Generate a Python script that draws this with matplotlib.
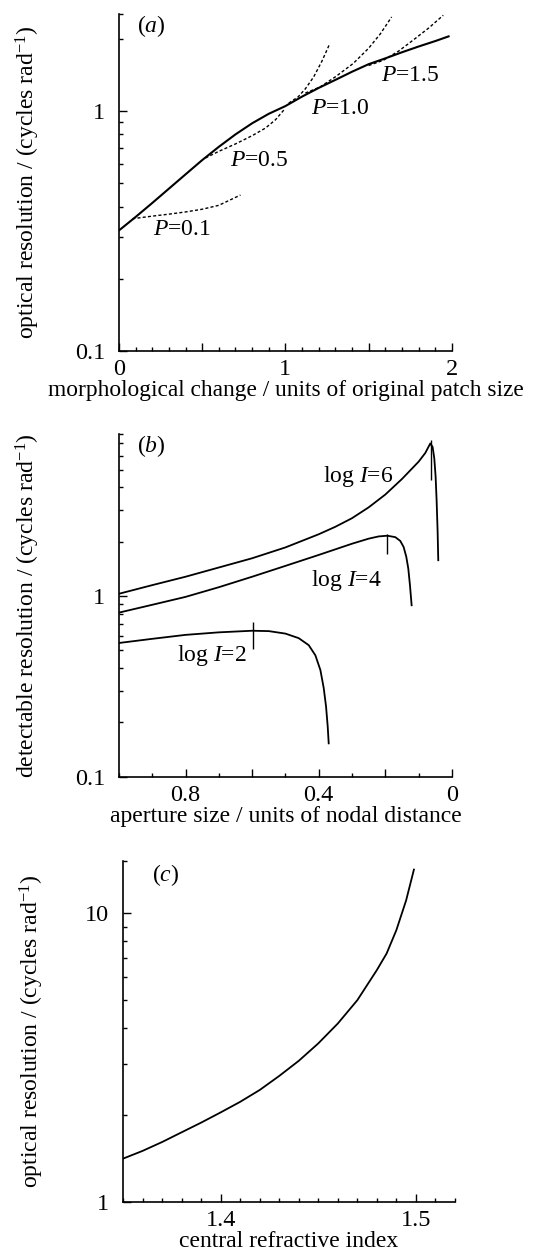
import matplotlib
matplotlib.use("Agg")
import matplotlib.pyplot as plt
from matplotlib.ticker import FixedLocator, NullFormatter, FixedFormatter

plt.rcParams["font.family"] = ["Liberation Serif", "DejaVu Serif"]
plt.rcParams["mathtext.fontset"] = "custom"
plt.rcParams["mathtext.rm"] = "Liberation Serif"
plt.rcParams["mathtext.it"] = "Liberation Serif:italic"

# ── panel (a) data ─────────────────────────────────────────────────────────────
env_x = [0.0, 0.1, 0.2, 0.3, 0.4, 0.5, 0.6, 0.7, 0.8, 0.9, 1.0, 1.1, 1.2, 1.3,
         1.4, 1.5, 1.6, 1.7, 1.8, 1.9, 1.98]
env_y = [0.318, 0.362, 0.414, 0.475, 0.545, 0.625, 0.71, 0.80, 0.89, 0.975, 1.05,
         1.15, 1.25, 1.35, 1.46, 1.57, 1.66, 1.76, 1.86, 1.96, 2.05]

p01_x = [0.08, 0.2, 0.3, 0.4, 0.5, 0.6, 0.73]
p01_y = [0.356, 0.365, 0.372, 0.38, 0.39, 0.405, 0.447]
p05_x = [0.52, 0.6, 0.7, 0.8, 0.88, 0.94, 0.99]
p05_y = [0.638, 0.68, 0.73, 0.79, 0.85, 0.92, 1.01]
p10_x = [1.02, 1.077, 1.12, 1.17, 1.22, 1.267]
p10_y = [1.08, 1.148, 1.24, 1.39, 1.62, 1.916]
p15_x = [1.12, 1.207, 1.3, 1.407, 1.5, 1.57, 1.638]
p15_y = [1.19, 1.26, 1.39, 1.58, 1.83, 2.1, 2.47]
p20_x = [1.5, 1.588, 1.68, 1.768, 1.86, 1.948]
p20_y = [1.55, 1.63, 1.78, 1.98, 2.22, 2.51]

labels_a = ["$P$=0.1", "$P$=0.5", "$P$=1.0", "$P$=1.5"]
labels_a_x = [0.38, 0.84, 1.33, 1.75]
labels_a_y = [0.32, 0.625, 1.03, 1.41]

# ── panel (b) data ─────────────────────────────────────────────────────────────
i6_x = [1.0, 0.9, 0.8, 0.7, 0.6, 0.5, 0.4, 0.35, 0.3, 0.25, 0.2, 0.15, 0.1,
        0.08, 0.065, 0.058, 0.053, 0.049, 0.046, 0.043, 0.041]
i6_y = [1.03, 1.15, 1.28, 1.44, 1.62, 1.86, 2.2, 2.42, 2.7, 3.1, 3.65, 4.45, 5.55,
        6.2, 7.0, 6.7, 5.8, 4.6, 3.4, 2.3, 1.58]
i4_x = [1.0, 0.9, 0.8, 0.7, 0.6, 0.5, 0.4, 0.3, 0.25, 0.22, 0.194, 0.17, 0.155,
        0.145, 0.137, 0.131, 0.126, 0.121]
i4_y = [0.81, 0.895, 0.99, 1.12, 1.28, 1.47, 1.69, 1.95, 2.08, 2.14, 2.16, 2.12, 2.02,
        1.87, 1.65, 1.42, 1.15, 0.89]
i2_x = [1.0, 0.9, 0.8, 0.7, 0.6, 0.55, 0.5, 0.46, 0.43, 0.41, 0.395, 0.385, 0.378,
        0.373, 0.370]
i2_y = [0.55, 0.58, 0.61, 0.63, 0.643, 0.64, 0.62, 0.585, 0.535, 0.47, 0.39, 0.31,
        0.245, 0.19, 0.153]

opt_x = [0.064, 0.194, 0.598]
opt_lo = [4.4, 1.72, 0.51]
opt_hi = [7.3, 2.2, 0.72]

labels_b = ["log $I$=6", "log $I$=4", "log $I$=2"]
labels_b_x = [0.28, 0.318, 0.72]
labels_b_y = [4.6, 1.22, 0.47]

# ── panel (c) data ─────────────────────────────────────────────────────────────
n_x = [1.35, 1.36, 1.37, 1.38, 1.39, 1.40, 1.41, 1.42, 1.43, 1.44, 1.45, 1.46,
       1.47, 1.48, 1.485, 1.49, 1.495, 1.499]
n_y = [1.41, 1.50, 1.61, 1.74, 1.88, 2.04, 2.22, 2.44, 2.73, 3.08, 3.54, 4.15,
       5.0, 6.36, 7.26, 8.75, 11.1, 14.2]


def style(ax):
    ax.spines[["top", "right"]].set_visible(False)
    for s in ("left", "bottom"):
        ax.spines[s].set_linewidth(1.2)
    ax.tick_params(which="both", direction="in", top=False, right=False,
                   labelsize=17.5, width=1.0)
    ax.tick_params(axis="x", which="both", pad=6)
    ax.tick_params(axis="y", which="both", pad=10)
    ax.tick_params(which="major", length=6)
    ax.tick_params(which="minor", length=3)


fig = plt.figure(figsize=(5.38, 12.55), dpi=100)

# ── (a) ────────────────────────────────────────────────────────────────────────
ax = fig.add_axes([0.221, 0.7203, 0.619, 0.2685])
ax.set_yscale("log")
ax.plot(env_x, env_y, color="black", lw=1.5)
for xs, ys in [(p01_x, p01_y), (p05_x, p05_y), (p10_x, p10_y), (p15_x, p15_y), (p20_x, p20_y)]:
    ax.plot(xs, ys, color="black", lw=1.0, ls=(0, (2.2, 1.6)))
for t, x, y in zip(labels_a, labels_a_x, labels_a_y):
    ax.text(x, y, t, fontsize=17, ha="center", va="center")
ax.text(0.054, 0.964, "($a$)", transform=ax.transAxes, fontsize=17, ha="left", va="center")
ax.set_xlim(0, 2)
ax.set_ylim(0.1, 2.54)
ax.xaxis.set_major_locator(FixedLocator([0, 0.5, 1, 1.5, 2]))
ax.xaxis.set_major_formatter(FixedFormatter(["0", "", "1", "", "2"]))
ax.xaxis.set_minor_locator(FixedLocator([i / 10 for i in range(21)]))
ax.yaxis.set_major_locator(FixedLocator([0.1, 1]))
ax.yaxis.set_major_formatter(FixedFormatter(["0.1", "1"]))
ax.yaxis.set_minor_locator(FixedLocator([0.2, 0.3, 0.4, 0.5, 0.6, 0.7, 0.8, 0.9, 2, 2.54]))
ax.yaxis.set_minor_formatter(NullFormatter())
style(ax)
ax.set_xlabel("morphological change / units of original patch size", fontsize=16.8, labelpad=0)
ax.set_ylabel("optical resolution / (cycles rad$^{-1}$)", fontsize=17)
ax.yaxis.set_label_coords(-0.232, 0.5)

# ── (b) ────────────────────────────────────────────────────────────────────────
ax = fig.add_axes([0.221, 0.3811, 0.619, 0.2731])
ax.set_yscale("log")
for xs, ys in [(i6_x, i6_y), (i4_x, i4_y), (i2_x, i2_y)]:
    ax.plot(xs, ys, color="black", lw=1.3)
ax.vlines(opt_x, opt_lo, opt_hi, color="black", lw=1.0)
for t, x, y in zip(labels_b, labels_b_x, labels_b_y):
    ax.text(x, y, t, fontsize=17, ha="center", va="center")
ax.text(0.054, 0.964, "($b$)", transform=ax.transAxes, fontsize=17, ha="left", va="center")
ax.set_xlim(1.0, 0)
ax.set_ylim(0.1, 7.9)
ax.xaxis.set_major_locator(FixedLocator([0.8, 0.6, 0.4, 0.2, 0]))
ax.xaxis.set_major_formatter(FixedFormatter(["0.8", "", "0.4", "", "0"]))
ax.xaxis.set_minor_locator(FixedLocator([i / 10 for i in range(11)]))
ax.yaxis.set_major_locator(FixedLocator([0.1, 1]))
ax.yaxis.set_major_formatter(FixedFormatter(["0.1", "1"]))
ax.yaxis.set_minor_locator(FixedLocator([0.2, 0.3, 0.4, 0.5, 0.6, 0.7, 0.8, 0.9, 2, 3, 4, 5, 6, 7, 7.9]))
ax.yaxis.set_minor_formatter(NullFormatter())
style(ax)
ax.set_xlabel("aperture size / units of nodal distance", fontsize=17, labelpad=0)
ax.set_ylabel("detectable resolution / (cycles rad$^{-1}$)", fontsize=17)
ax.yaxis.set_label_coords(-0.232, 0.5)

# ── (c) ────────────────────────────────────────────────────────────────────────
ax = fig.add_axes([0.2286, 0.0425, 0.617, 0.2714])
ax.set_yscale("log")
ax.plot(n_x, n_y, color="black", lw=1.3)
ax.text(0.087, 0.959, "($c$)", transform=ax.transAxes, fontsize=17, ha="left", va="center")
ax.set_xlim(1.35, 1.52)
ax.set_ylim(1, 15.2)
ax.xaxis.set_major_locator(FixedLocator([1.4, 1.5]))
ax.xaxis.set_major_formatter(FixedFormatter(["1.4", "1.5"]))
ax.xaxis.set_minor_locator(FixedLocator([1.35 + i / 100 for i in range(18)]))
ax.yaxis.set_major_locator(FixedLocator([1, 10]))
ax.yaxis.set_major_formatter(FixedFormatter(["1", "10"]))
ax.yaxis.set_minor_locator(FixedLocator([2, 3, 4, 5, 6, 7, 8, 9, 15.2]))
ax.yaxis.set_minor_formatter(NullFormatter())
style(ax)
ax.set_xlabel("central refractive index", fontsize=17, labelpad=0)
ax.set_ylabel("optical resolution / (cycles rad$^{-1}$)", fontsize=17)
ax.yaxis.set_label_coords(-0.232, 0.5)

fig.savefig("out.png", dpi=100)
